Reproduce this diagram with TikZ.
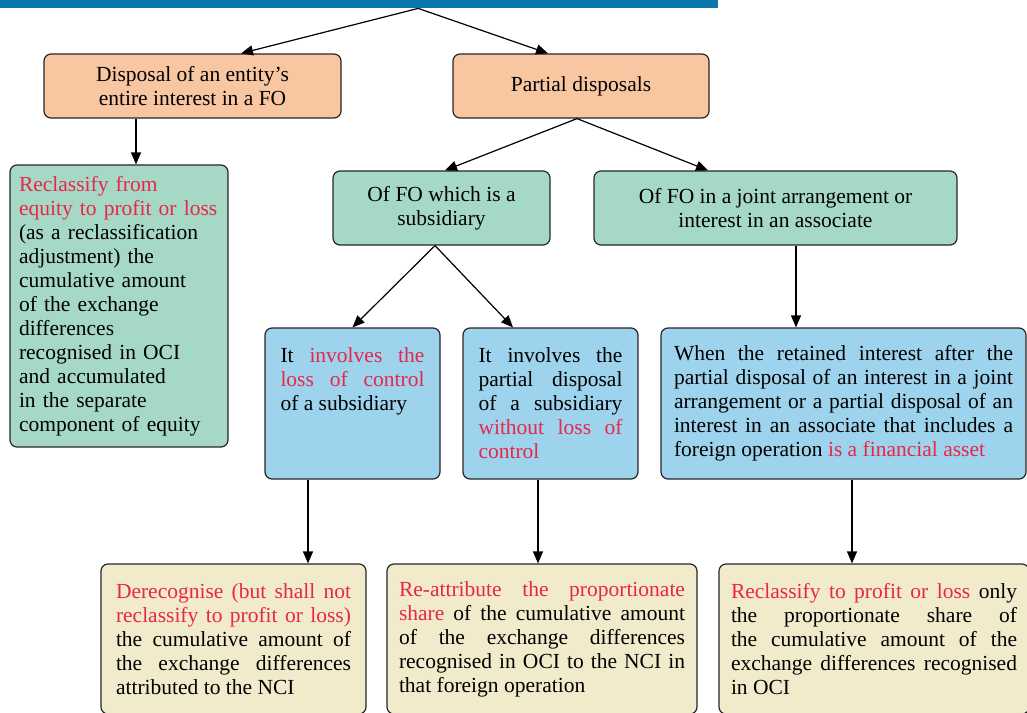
\documentclass[tikz,border=0pt]{standalone}
\usepackage{fontspec}
\setmainfont{Liberation Serif}
\usetikzlibrary{arrows.meta}
\definecolor{hdrblue}{HTML}{0A78AE}
\definecolor{peach}{HTML}{F8C6A1}
\definecolor{mint}{HTML}{A6D9C5}
\definecolor{sky}{HTML}{9DD3EC}
\definecolor{cream}{HTML}{F2EBCB}
\definecolor{hl}{HTML}{E8264A}
\definecolor{edge}{HTML}{262626}
\newcommand{\hlt}[1]{\textcolor{hl}{#1}}
\tolerance=10000
\hbadness=10000
\begin{document}
\begin{tikzpicture}[x=1pt,y=-1pt,
  box/.style={draw=edge, line width=1.2pt, rounded corners=7pt, inner sep=0pt,
    font=\fontsize{21.5}{24}\selectfont},
  ctr/.style={box, align=center},
  rag/.style={box, align=left},
  jus/.style={box, align=justify},
  link/.style={line width=1.2pt, -{Triangle[length=12pt,width=10pt]}}]
\useasboundingbox (0,0) rectangle (1027,712);
\clip (0,0) rectangle (1027,712);

% title bar
\node[fill=hdrblue, inner sep=0pt, minimum width=718pt, minimum height=8pt,
  anchor=north west] (hdr) at (0,0) {};

% first level
\node[ctr, fill=peach, minimum width=297pt, minimum height=64pt] (A) at (192.5,86)
  {Disposal of an entity’s\\entire interest in a FO};
\node[ctr, fill=peach, minimum width=256pt, minimum height=64pt] (B) at (581,86)
  {Partial disposals};

% entire disposal
\node[rag, fill=mint, text width=200pt, minimum width=218pt, minimum height=282pt] (C) at (119,306)
  {\hlt{Reclassify from}\\\hlt{equity to profit or loss}\\(as a reclassification\\adjustment) the\\cumulative amount\\of the exchange\\differences\\recognised in OCI\\and accumulated\\in the separate\\component of equity};

% partial disposals
\node[ctr, fill=mint, minimum width=217pt, minimum height=74pt] (D) at (441.5,208)
  {Of FO which is a\\subsidiary};
\node[ctr, fill=mint, minimum width=363pt, minimum height=74pt] (E) at (775.5,208)
  {Of FO in a joint arrangement or\\interest in an associate};

\node[jus, fill=sky, text width=144pt, minimum width=175pt, minimum height=151pt] (F) at (352.5,403.5)
  {It \hlt{involves the\linebreak loss of control}\linebreak of a subsidiary\rule[-48pt]{0pt}{48pt}};
\node[jus, fill=sky, text width=144pt, minimum width=175pt, minimum height=151pt] (G) at (550.5,403.5)
  {It involves the\linebreak partial disposal\linebreak of a subsidiary\linebreak \hlt{without loss of\linebreak control}};
\node[jus, fill=sky, text width=339pt, minimum width=365pt, minimum height=151pt] (H) at (843.5,403.5)
  {When the retained interest after the\linebreak partial disposal of an interest in a joint\linebreak arrangement or a partial disposal of an\linebreak interest in an associate that includes a\linebreak foreign operation \hlt{is a financial asset}};

% outcomes
\node[jus, fill=cream, text width=235pt, minimum width=265pt, minimum height=150pt] (I) at (233.5,639)
  {\hlt{Derecognise (but shall not\linebreak reclassify to profit or loss)}\linebreak the cumulative amount of\linebreak the exchange differences\linebreak attributed to the NCI};
\node[jus, fill=cream, text width=286pt, minimum width=310pt, minimum height=150pt] (J) at (542,639)
  {\hlt{Re-attribute the proportionate\linebreak share} of the cumulative amount\linebreak of the exchange differences\linebreak recognised in OCI to the NCI in\linebreak that foreign operation};
\node[jus, fill=cream, text width=286pt, minimum width=310pt, minimum height=150pt] (K) at (874,639)
  {\hlt{Reclassify to profit or loss} only\linebreak the proportionate share of\linebreak the cumulative amount of the\linebreak exchange differences recognised\linebreak in OCI};

% connectors
\draw[link] ([xshift=59pt]hdr.south) -- ([xshift=48.5pt]A.north);
\draw[link] ([xshift=59pt]hdr.south) -- ([xshift=-33pt]B.north);
\draw[link] ([xshift=-56.5pt]A.south) -- ([xshift=17pt]C.north);
\draw[link] ([xshift=-4pt]B.south) -- ([xshift=3.5pt]D.north);
\draw[link] ([xshift=-4pt]B.south) -- ([xshift=-67.5pt]E.north);
\draw[link] ([xshift=-6.5pt]D.south) -- (F.north);
\draw[link] ([xshift=-6.5pt]D.south) -- ([xshift=-37.5pt]G.north);
\draw[link] ([xshift=20.5pt]E.south) -- ([xshift=-47.5pt]H.north);
\draw[link] ([xshift=-44.5pt]F.south) -- ([xshift=74.5pt]I.north);
\draw[link] ([xshift=-12.5pt]G.south) -- ([xshift=-4pt]J.north);
\draw[link] ([xshift=8.5pt]H.south) -- ([xshift=-22pt]K.north);
\end{tikzpicture}
\end{document}
